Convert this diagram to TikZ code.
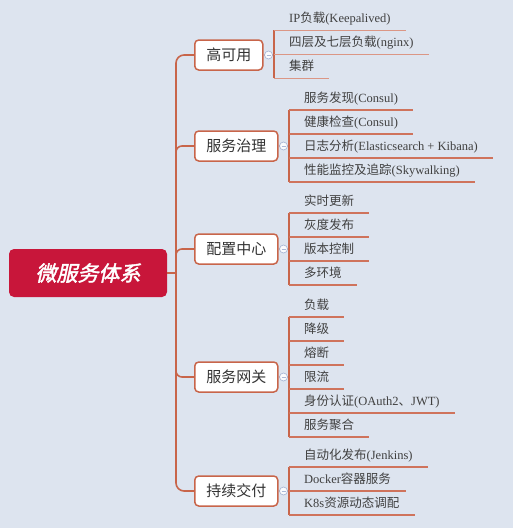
\documentclass[tikz,border=0pt]{standalone}
\usepackage{fontspec}
\setmainfont{Liberation Serif}
\newfontfamily\cjk{Noto Sans CJK SC}
\newfontfamily\cjkroot[FakeSlant=0.22,FakeBold=2]{Noto Sans CJK SC}
\definecolor{paper}{HTML}{DDE4EF}
\definecolor{branch}{HTML}{C8654A}
\definecolor{rootred}{HTML}{C8163A}
\definecolor{leafline}{HTML}{CF735C}
\definecolor{ring}{HTML}{AAB8D6}

\begin{document}
\begin{tikzpicture}[x=1pt,y=-1pt,
  link/.style={draw=branch,line width=1.6pt},
  bracket/.style={draw=branch,line width=1.8pt},
  under/.style={draw=leafline,line width=1.1pt},
  thinunder/.style={draw=leafline!75,line width=.8pt},
  rootbox/.style={fill=rootred,rounded corners=5pt,minimum width=158pt,minimum height=48pt,
    text=white,font=\cjkroot\fontsize{21}{24}\selectfont,text height=16pt,text depth=0pt},
  topic/.style={draw=branch,line width=1.5pt,fill=white,rounded corners=4pt,anchor=west,
    minimum height=30pt,inner xsep=11.5pt,inner ysep=0pt,text height=11.5pt,text depth=0pt,
    font=\cjk\fontsize{15}{18}\selectfont,text=black!80},
  leaf/.style={anchor=south west,inner xsep=15pt,inner ysep=7pt,text height=10pt,text depth=0pt,
    font=\cjk\fontsize{12.5}{15}\selectfont,text=black!75},
  toggle/.style={circle,draw=ring,fill=white!85!paper,line width=.7pt,inner sep=0pt,minimum size=8pt,
    path picture={\draw[ring,line width=.7pt] ([xshift=-2pt]path picture bounding box.center)
      -- ([xshift=2pt]path picture bounding box.center);}}]

  \fill[paper] (0,0) rectangle (513,528);
  \useasboundingbox (0,0) rectangle (513,528);

  % root and main topics
  \node[rootbox] (root) at (88,273) {微服务体系};
  \coordinate (tk) at (176,273);
  \node[topic] (ha) at (194,55) {高可用};
  \node[topic] (gov) at (194,146) {服务治理};
  \node[topic] (cfg) at (194,249) {配置中心};
  \node[topic] (gw) at (194,377) {服务网关};
  \node[topic] (cd) at (194,491) {持续交付};

  % subtopics
  \node[leaf] (ha1) at (274,30) {\textrm{IP}负载\textrm{(Keepalived)}};
  \node[leaf] (ha2) at (274,54) {四层及七层负载\textrm{(nginx)}};
  \node[leaf] (ha3) at (274,78) {集群};

  \node[leaf] (gov1) at (289,110) {服务发现\textrm{(Consul)}};
  \node[leaf] (gov2) at (289,134) {健康检查\textrm{(Consul)}};
  \node[leaf] (gov3) at (289,158) {日志分析\textrm{(Elasticsearch + Kibana)}};
  \node[leaf] (gov4) at (289,182) {性能监控及追踪\textrm{(Skywalking)}};

  \node[leaf] (cfg1) at (289,213) {实时更新};
  \node[leaf] (cfg2) at (289,237) {灰度发布};
  \node[leaf] (cfg3) at (289,261) {版本控制};
  \node[leaf] (cfg4) at (289,285) {多环境};

  \node[leaf] (gw1) at (289,317) {负载};
  \node[leaf] (gw2) at (289,341) {降级};
  \node[leaf] (gw3) at (289,365) {熔断};
  \node[leaf] (gw4) at (289,389) {限流};
  \node[leaf] (gw5) at (289,413) {身份认证\textrm{(OAuth2}、\textrm{JWT)}};
  \node[leaf] (gw6) at (289,437) {服务聚合};

  \node[leaf] (cd1) at (289,467) {自动化发布\textrm{(Jenkins)}};
  \node[leaf] (cd2) at (289,491) {\textrm{Docker}容器服务};
  \node[leaf] (cd3) at (289,515) {\textrm{K8s}资源动态调配};

  % trunk
  \draw[link] (root.east) -- (tk);
  \draw[link,rounded corners=8pt] (ha.west) -| (tk) |- (cd.west);
  \draw[link,rounded corners=6pt] ([yshift=-10pt]tk |- gov.west) |- (gov.west);
  \draw[link,rounded corners=6pt] ([yshift=-10pt]tk |- cfg.west) |- (cfg.west);
  \draw[link,rounded corners=6pt] ([yshift=10pt]tk |- gw.west) |- (gw.west);

  % brackets
  \draw[link] (ha.east) -- (ha.east -| ha1.south west);
  \draw[link] (gov.east) -- (gov.east -| gov1.south west);
  \draw[link] (cfg.east) -- (cfg.east -| cfg1.south west);
  \draw[link] (gw.east) -- (gw.east -| gw1.south west);
  \draw[link] (cd.east) -- (cd.east -| cd1.south west);
  \draw[bracket] (ha1.south west) -- (ha3.south west);
  \draw[bracket] (gov1.south west) -- (gov4.south west);
  \draw[bracket] (cfg1.south west) -- (cfg4.south west);
  \draw[bracket] (gw1.south west) -- (gw6.south west);
  \draw[bracket] (cd1.south west) -- (cd3.south west);
  \foreach \n in {ha1,ha2,ha3}
    \draw[thinunder] (\n.south west) -- (\n.south east);
  \foreach \n in {gov1,gov2,gov3,gov4,cfg1,cfg2,cfg3,cfg4,gw1,gw2,gw3,gw4,gw5,gw6,cd1,cd2,cd3}
    \draw[under] (\n.south west) -- (\n.south east);

  % collapse buttons
  \node[toggle] (hat) at ([xshift=5pt]ha.east) {};
  \node[toggle] (govt) at ([xshift=5pt]gov.east) {};
  \node[toggle] (cfgt) at ([xshift=5pt]cfg.east) {};
  \node[toggle] (gwt) at ([xshift=5pt]gw.east) {};
  \node[toggle] (cdt) at ([xshift=5pt]cd.east) {};
\end{tikzpicture}
\end{document}
